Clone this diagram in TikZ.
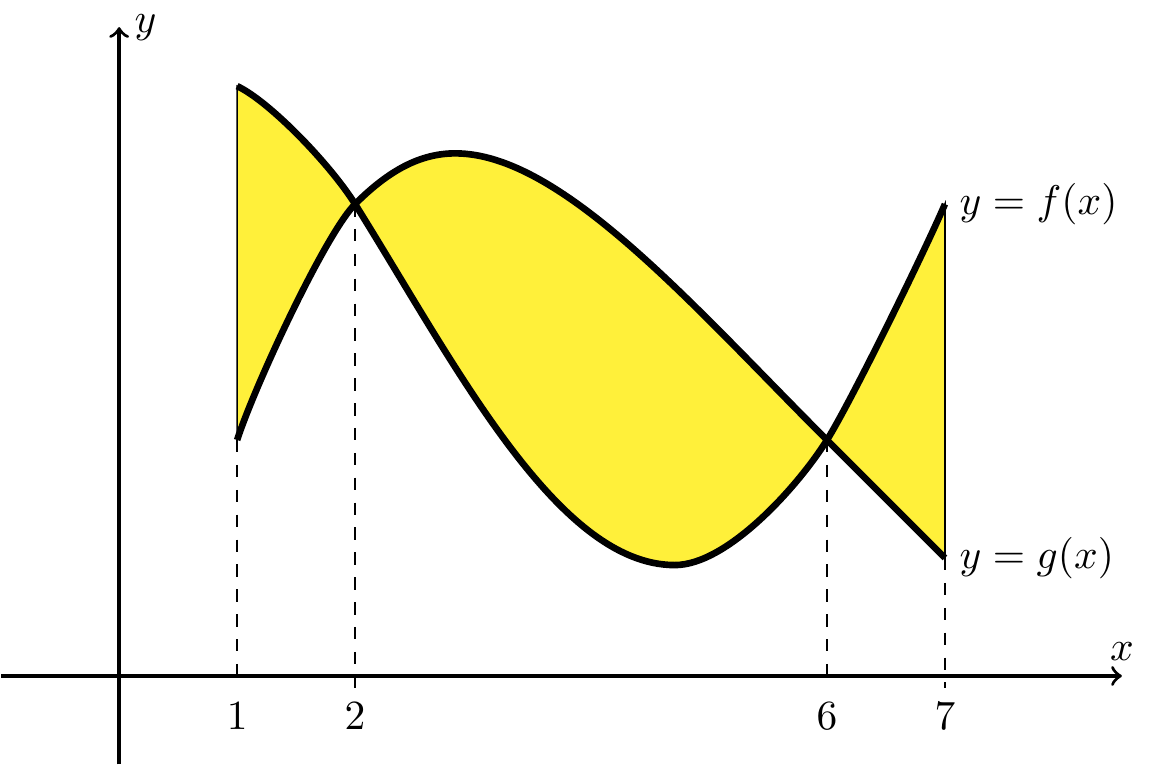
\documentclass[tikz,border=0pt]{standalone}
\definecolor{areayellow}{RGB}{255,240,58}
\begin{document}
\begin{tikzpicture}[
    axis/.style={->, thick},
    curve/.style={ultra thick},
    guide/.style={dashed},
]
\useasboundingbox (-1.01,-0.76) rectangle (8.73,5.73);

% region between the two curves
\filldraw[fill=areayellow, thin]
  (1,5) .. controls (1.272,4.873) and (1.788,4.339) .. (2,4)
        .. controls (2.848,2.643) and (3.71,0.94) .. (4.71,0.94)
        .. controls (5.16,0.94) and (5.762,1.618) .. (6,2)
        .. controls (6.212,2.339) and (6.844,3.632) .. (7,4)
  -- (7,1) -- (6,2)
        .. controls (4.869,3.131) and (3.75,4.43) .. (2.85,4.43)
        .. controls (2.55,4.43) and (2.283,4.283) .. (2,4)
        .. controls (1.753,3.753) and (1.155,2.476) .. (1,2)
  -- cycle;

% axes
\draw[axis] (-1,0) -- (8.5,0) node[above] (xlab) {$x$};
\draw[axis] (0,-0.75) -- (0,5.5) node[right] (ylab) {$y$};

% dashed guides down to the x-axis
\foreach \x/\y in {1/2, 2/4, 6/2, 7/1}
  \draw[guide] (\x,\y) -- (\x,-0.1) node[below] (tick\x) {$\x$};

% y = f(x)
\draw[curve] (1,5) .. controls (1.272,4.873) and (1.788,4.339) .. (2,4)
        .. controls (2.848,2.643) and (3.71,0.94) .. (4.71,0.94)
        .. controls (5.16,0.94) and (5.762,1.618) .. (6,2)
        .. controls (6.212,2.339) and (6.844,3.632) .. (7,4);
% y = g(x)
\draw[curve] (1,2) .. controls (1.155,2.476) and (1.753,3.753) .. (2,4)
        .. controls (2.283,4.283) and (2.55,4.43) .. (2.85,4.43)
        .. controls (3.75,4.43) and (4.869,3.131) .. (6,2) -- (7,1);

\node[right] (flab) at (7,4) {$y=f(x)$};
\node[right] (glab) at (7,1) {$y=g(x)$};

\end{tikzpicture}
\end{document}
